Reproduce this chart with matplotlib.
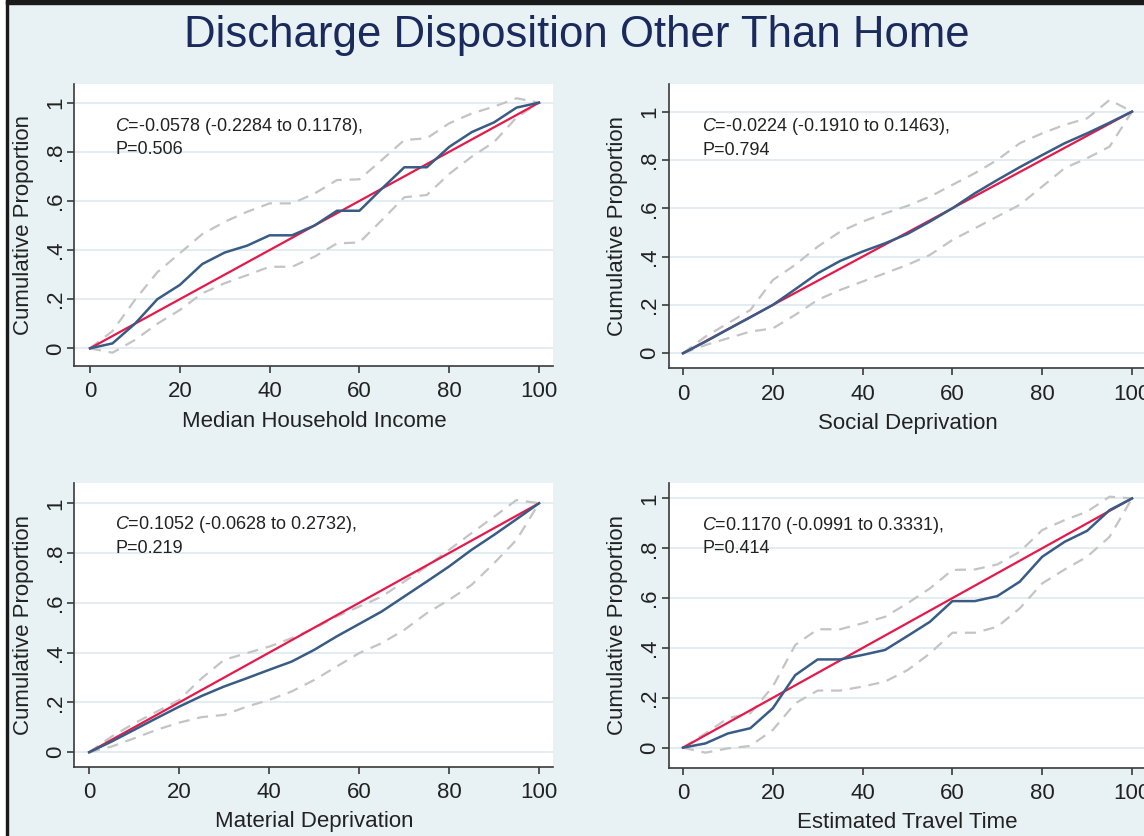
import matplotlib
matplotlib.use('Agg')
import matplotlib.pyplot as plt
from matplotlib.patches import Rectangle

plt.rcParams['font.family'] = ['Liberation Sans', 'DejaVu Sans']
plt.rcParams['mathtext.fontset'] = 'custom'
plt.rcParams['mathtext.it'] = 'Liberation Sans:italic'
plt.rcParams['mathtext.rm'] = 'Liberation Sans'

# percentile of the ranked variable
pct = [0, 5, 10, 15, 20, 25, 30, 35, 40, 45, 50, 55, 60, 65, 70, 75, 80, 85, 90, 95, 100]

# Median Household Income
income_obs = [0, 0.02, 0.10, 0.20, 0.258, 0.343, 0.39, 0.418, 0.46, 0.46, 0.50, 0.56, 0.56,
              0.65, 0.737, 0.737, 0.82, 0.88, 0.92, 0.98, 1.0]
income_hi = [0, 0.07, 0.197, 0.31, 0.387, 0.465, 0.515, 0.556, 0.59, 0.59, 0.63, 0.685, 0.688,
             0.767, 0.848, 0.855, 0.916, 0.956, 0.984, 1.018, 1.0]
income_lo = [0, -0.018, 0.034, 0.10, 0.156, 0.224, 0.265, 0.298, 0.332, 0.332, 0.373, 0.427, 0.431,
             0.522, 0.615, 0.624, 0.71, 0.78, 0.84, 0.94, 1.0]

# Social Deprivation
social_obs = [0, 0.048, 0.099, 0.149, 0.2, 0.265, 0.331, 0.382, 0.421, 0.455, 0.494, 0.545, 0.6,
              0.662, 0.717, 0.77, 0.82, 0.869, 0.91, 0.954, 1.0]
social_hi = [0, 0.069, 0.124, 0.179, 0.303, 0.366, 0.441, 0.503, 0.545, 0.579, 0.61, 0.648, 0.697,
             0.745, 0.80, 0.869, 0.91, 0.945, 0.972, 1.048, 1.0]
social_lo = [0, 0.034, 0.062, 0.09, 0.103, 0.159, 0.221, 0.262, 0.297, 0.331, 0.366, 0.407, 0.469,
             0.517, 0.566, 0.614, 0.69, 0.766, 0.807, 0.855, 1.0]

# Material Deprivation
material_obs = [0, 0.043, 0.09, 0.137, 0.183, 0.226, 0.264, 0.297, 0.331, 0.364, 0.411, 0.465, 0.515,
                0.565, 0.625, 0.685, 0.746, 0.813, 0.873, 0.936, 1.0]
material_hi = [0, 0.063, 0.116, 0.163, 0.21, 0.297, 0.371, 0.398, 0.424, 0.458, 0.498, 0.545, 0.585,
               0.625, 0.685, 0.746, 0.813, 0.88, 0.946, 1.013, 1.0]
material_lo = [0, 0.023, 0.056, 0.09, 0.119, 0.141, 0.15, 0.183, 0.21, 0.244, 0.29, 0.344, 0.398,
               0.438, 0.491, 0.558, 0.612, 0.672, 0.759, 0.853, 1.0]

# Estimated Travel Time
travel_obs = [0, 0.017, 0.057, 0.078, 0.158, 0.291, 0.354, 0.354, 0.372, 0.392, 0.448, 0.505, 0.588,
              0.588, 0.608, 0.666, 0.766, 0.826, 0.87, 0.953, 1.0]
travel_hi = [0, 0.057, 0.118, 0.138, 0.245, 0.412, 0.475, 0.475, 0.499, 0.525, 0.579, 0.639, 0.713,
             0.715, 0.735, 0.786, 0.873, 0.913, 0.947, 1.007, 1.0]
travel_lo = [0, -0.02, -0.003, 0.007, 0.071, 0.178, 0.229, 0.229, 0.245, 0.265, 0.311, 0.378, 0.461,
             0.461, 0.485, 0.559, 0.659, 0.715, 0.766, 0.846, 1.0]

xlabels = ['Median Household Income', 'Social Deprivation', 'Material Deprivation', 'Estimated Travel Time']
c_text = ['$C$=-0.0578 (-0.2284 to 0.1178),', '$C$=-0.0224 (-0.1910 to 0.1463),',
          '$C$=0.1052 (-0.0628 to 0.2732),', '$C$=0.1170 (-0.0991 to 0.3331),']
p_text = ['P=0.506', 'P=0.794', 'P=0.219', 'P=0.414']
obs = [income_obs, social_obs, material_obs, travel_obs]
hi = [income_hi, social_hi, material_hi, travel_hi]
lo = [income_lo, social_lo, material_lo, travel_lo]
eq_x = [0, 100]
eq_y = [0, 1]
yticks = [0, 0.2, 0.4, 0.6, 0.8, 1]
yticklabels = ['0', '.2', '.4', '.6', '.8', '1']

W, H = 1144, 836
bg = '#e8f1f3'
fig = plt.figure(figsize=(W / 100, H / 100), dpi=100, facecolor=bg)

# pixel boxes: left, top, right, bottom
boxes = [(74.3, 84, 553.4, 366), (668.6, 84, 1146.4, 368.3),
         (74.3, 482.6, 553.4, 766.7), (668.6, 482.7, 1146.4, 767.6)]
xlims = [(-3.5, 103.2), (-3.2, 103.2), (-3.3, 103.2), (-3.2, 103.2)]
ylims = [(-0.072, 1.076), (-0.062, 1.114), (-0.058, 1.083), (-0.08, 1.063)]
text_x = [0.085, 0.07, 0.085, 0.07]

for i in range(4):
    l, t, r, b = boxes[i]
    ax = fig.add_axes([l / W, 1 - b / H, (r - l) / W, (b - t) / H])
    ax.set_facecolor('white')
    ax.set_xlim(xlims[i])
    ax.set_ylim(ylims[i])
    for yy in yticks:
        ax.axhline(yy, color='#e1ebef', lw=1.3, zorder=0)
    ax.plot(pct, hi[i], color='#c4c4c4', lw=1.6, dashes=(5, 3.5), zorder=2)
    ax.plot(pct, lo[i], color='#c4c4c4', lw=1.6, dashes=(5, 3.5), zorder=2)
    ax.plot(eq_x, eq_y, color='#e5194a', lw=1.6, zorder=3)
    ax.plot(pct, obs[i], color='#385c85', lw=1.8, zorder=4)
    for s in ['top', 'right']:
        ax.spines[s].set_visible(False)
    for s in ['left', 'bottom']:
        ax.spines[s].set_color('#3a3a3a')
        ax.spines[s].set_linewidth(1.2)
    ax.set_xticks([0, 20, 40, 60, 80, 100])
    ax.set_yticks(yticks)
    ax.set_yticklabels(yticklabels, rotation=90, va='center')
    ax.tick_params(length=5, width=1.2, color='#3a3a3a', labelsize=16, labelcolor='#222222')
    ax.tick_params(axis='y', pad=1)
    ax.tick_params(axis='x', pad=6)
    ax.set_xlabel(xlabels[i], fontsize=16, color='#222222', labelpad=6)
    ax.set_ylabel('Cumulative Proportion', fontsize=16, color='#222222', labelpad=8)
    ax.text(text_x[i], 0.835, c_text[i], transform=ax.transAxes, fontsize=13, color='#222222')
    ax.text(text_x[i], 0.752, p_text[i], transform=ax.transAxes, fontsize=13, color='#222222')

fig.text(577 / W, 1 - 35 / H, 'Discharge Disposition Other Than Home', ha='center', va='center',
         fontsize=31.5, color='#1b2a5c')

# frame of the original graph window
fig.patches.append(Rectangle((0, 0), 6 / W, 1, transform=fig.transFigure, color='white', zorder=5))
fig.patches.append(Rectangle((6 / W, 0), 2 / W, 1, transform=fig.transFigure, color='#1a1a1a', zorder=6))
fig.patches.append(Rectangle((6 / W, 1 - 4 / H), 1, 4 / H, transform=fig.transFigure, color='#1a1a1a', zorder=6))

fig.savefig('out.png', dpi=100, facecolor=bg)
